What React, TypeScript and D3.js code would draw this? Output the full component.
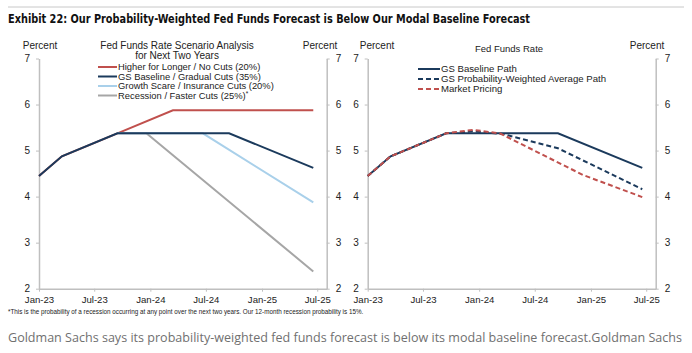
import * as React from 'react';
import { select, scaleTime, scaleLinear, axisLeft, axisRight, axisBottom, line, timeParse, timeFormat } from 'd3';

// ---- data ----
const yTicks = [2, 3, 4, 5, 6, 7];
const xTickDates = ["2023-01-01", "2023-07-01", "2024-01-01", "2024-07-01", "2025-01-01", "2025-07-01"];

// left panel: scenario analysis
const higherDates = ["2023-01-01", "2023-03-17", "2023-09-15", "2024-03-15", "2025-06-18"];
const higherValues = [4.45, 4.875, 5.375, 5.875, 5.875];
const baselineDates = ["2023-01-01", "2023-03-17", "2023-09-15", "2024-09-15", "2025-06-18"];
const baselineValues = [4.45, 4.875, 5.375, 5.375, 4.625];
const growthDates = ["2023-09-15", "2024-06-21", "2025-06-18"];
const growthValues = [5.375, 5.375, 3.875];
const recessionDates = ["2023-09-15", "2023-12-19", "2025-06-18"];
const recessionValues = [5.375, 5.375, 2.375];

// right panel: fed funds rate paths
const probDates = ["2023-01-01", "2023-03-17", "2023-09-15", "2023-12-13", "2024-03-19", "2024-09-15", "2025-06-18"];
const probValues = [4.45, 4.875, 5.375, 5.42, 5.36, 5.05, 4.16];
const marketDates = ["2023-01-01", "2023-03-17", "2023-09-15", "2023-12-13", "2024-03-10", "2024-12-06", "2025-06-18"];
const marketValues = [4.45, 4.875, 5.375, 5.45, 5.37, 4.47, 3.99];

const leftLegend = ["Higher for Longer / No Cuts (20%)", "GS Baseline / Gradual Cuts (35%)", "Growth Scare / Insurance Cuts (20%)", "Recession / Faster Cuts (25%)"];
const rightLegend = ["GS Baseline Path", "GS Probability-Weighted Average Path", "Market Pricing"];

const RED = "#c0504d";
const NAVY = "#1b3a5c";
const LIGHTBLUE = "#a9d0ea";
const GRAY = "#a6a6a6";
const AXIS = "#bfbfbf";
const FONT = "'Liberation Sans', Arial, sans-serif";

const parse = timeParse("%Y-%m-%d");

const App = () => {
    const svgRef = React.useRef<SVGSVGElement>(null);

    React.useEffect(() => {
        if (!svgRef.current) return;
        const svg = select(svgRef.current);
        svg.selectAll("*").remove();

        svg.append("line").attr("x1", 8).attr("x2", 684).attr("y1", 7).attr("y2", 7)
            .attr("stroke", "#c8c8c8").attr("stroke-width", 1);
        svg.append("text").attr("x", 8).attr("y", 23)
            .attr("font-family", "'Liberation Sans Narrow', 'DejaVu Sans Condensed', sans-serif")
            .attr("font-weight", "bold").attr("font-size", 12.5).attr("fill", "#111")
            .attr("textLength", 522).attr("lengthAdjust", "spacingAndGlyphs")
            .text("Exhibit 22: Our Probability-Weighted Fed Funds Forecast is Below Our Modal Baseline Forecast");

        const drawPanel = (x0: number, x1: number, series: { dates: string[], values: number[], color: string, dash?: string }[]) => {
            const x = scaleTime().domain([parse("2023-01-01")!, parse("2025-08-01")!]).range([x0, x1]);
            const y = scaleLinear().domain([2, 7]).range([288.7, 58.5]);
            const g = svg.append("g");

            const styleAxis = (ax: any, size = 10) => {
                ax.selectAll(".domain").attr("stroke", AXIS).attr("stroke-width", 1.5);
                ax.selectAll("line").attr("stroke", AXIS).attr("stroke-width", 1);
                ax.selectAll("text").attr("fill", "#222").attr("font-family", FONT).attr("font-size", size);
            };

            const la = g.append("g").attr("transform", `translate(${x0},0)`)
                .call(axisLeft(y).tickValues(yTicks).tickSize(3).tickSizeOuter(0).tickPadding(6).tickFormat((d: any) => String(d)) as any);
            styleAxis(la);
            const ra = g.append("g").attr("transform", `translate(${x1},0)`)
                .call(axisRight(y).tickValues(yTicks).tickSize(3).tickSizeOuter(0).tickPadding(6).tickFormat((d: any) => String(d)) as any);
            styleAxis(ra);
            const ba = g.append("g").attr("transform", `translate(0,${y(2)})`)
                .call(axisBottom(x).tickValues(xTickDates.map(d => parse(d)!)).tickSize(3).tickSizeOuter(0).tickPadding(4).tickFormat(timeFormat("%b-%y") as any) as any);
            styleAxis(ba, 9.6);

            const ln = line<[Date, number]>().x(d => x(d[0])).y(d => y(d[1]));
            series.forEach(s => {
                g.append("path")
                    .datum(s.dates.map((d, i) => [parse(d)!, s.values[i]] as [Date, number]))
                    .attr("d", ln)
                    .attr("fill", "none")
                    .attr("stroke", s.color)
                    .attr("stroke-width", 2)
                    .attr("stroke-dasharray", s.dash || null);
            });
            return g;
        };

        const left = drawPanel(39, 326.7, [
            { dates: higherDates, values: higherValues, color: RED },
            { dates: recessionDates, values: recessionValues, color: GRAY },
            { dates: growthDates, values: growthValues, color: LIGHTBLUE },
            { dates: baselineDates, values: baselineValues, color: NAVY },
        ]);
        const right = drawPanel(367.7, 655.7, [
            { dates: baselineDates, values: baselineValues, color: NAVY },
            { dates: probDates, values: probValues, color: NAVY, dash: "5,3" },
            { dates: marketDates, values: marketValues, color: RED, dash: "5,3" },
        ]);

        const label = (g: any, tx: number, ty: number, t: string, anchor = "middle", size = 10) =>
            g.append("text").attr("x", tx).attr("y", ty).attr("text-anchor", anchor)
                .attr("font-family", FONT).attr("font-size", size).attr("fill", "#222").text(t);

        label(left, 40, 48.5, "Percent");
        label(left, 320, 48.5, "Percent");
        label(left, 177, 48.5, "Fed Funds Rate Scenario Analysis");
        label(left, 177, 58.5, "for Next Two Years");
        label(right, 377, 48.5, "Percent");
        label(right, 647, 48.5, "Percent");
        label(right, 509, 51.5, "Fed Funds Rate", "middle", 9.5);

        const leftColors = [RED, NAVY, LIGHTBLUE, GRAY];
        leftLegend.forEach((t, i) => {
            const cy = 67 + i * 9.5;
            left.append("line").attr("x1", 98).attr("x2", 117).attr("y1", cy).attr("y2", cy)
                .attr("stroke", leftColors[i]).attr("stroke-width", 2);
            const tx = label(left, 118, cy + 3.3, t, "start", 9.4);
            if (i === 3) tx.append("tspan").attr("font-size", 6.5).attr("dy", -3).text("*");
        });

        const rightColors = [NAVY, NAVY, RED];
        const rightDash = [null, "5,3", "5,3"];
        rightLegend.forEach((t, i) => {
            const cy = 69 + i * 10;
            right.append("line").attr("x1", 418).attr("x2", 440).attr("y1", cy).attr("y2", cy)
                .attr("stroke", rightColors[i]).attr("stroke-width", 2).attr("stroke-dasharray", rightDash[i]);
            label(right, 441, cy + 3.4, t, "start", 9.6);
        });

        svg.append("text").attr("x", 8).attr("y", 314)
            .attr("font-family", FONT).attr("font-size", 6.3).attr("fill", "#222")
            .text("*This is the probability of a recession occurring at any point over the next two years. Our 12-month recession probability is 15%.");

        svg.append("text").attr("x", 8).attr("y", 342)
            .attr("font-family", "'Open Sans', sans-serif").attr("font-size", 12.5).attr("fill", "#707070")
            .attr("textLength", 674).attr("lengthAdjust", "spacingAndGlyphs")
            .text("Goldman Sachs says its probability-weighted fed funds forecast is below its modal baseline forecast.Goldman Sachs");
    }, [svgRef]);

    return (
        <svg ref={svgRef} width={692} height={353}
            style={{ position: 'absolute', left: 0, top: 0, background: 'white' }} />
    );
};

export default App;
